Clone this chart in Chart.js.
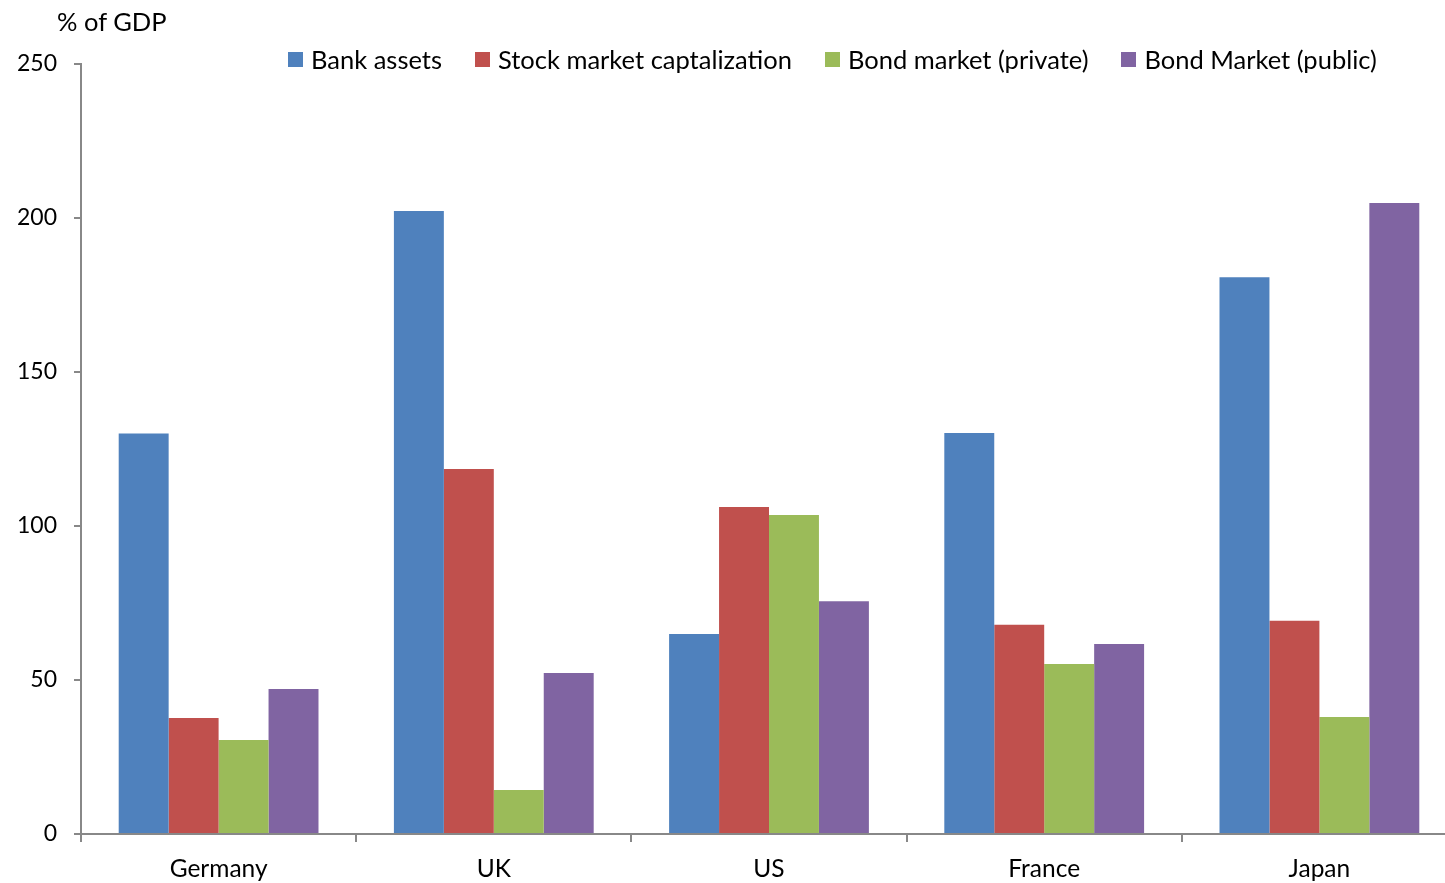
<!DOCTYPE html>
<html>
<head>
<meta charset="utf-8">
<script src="https://cdn.jsdelivr.net/npm/chart.js@4"></script>
<style>
html,body{margin:0;padding:0;background:#fff;width:1445px;height:883px;overflow:hidden;}
#wrap{position:absolute;left:0;top:0;width:1457px;height:883px;}
#title{position:absolute;left:57px;top:6px;font:25.5px Lato, "Open Sans", sans-serif;color:#000;}
#legend{position:absolute;left:288px;top:44px;font:25.5px Lato, "Open Sans", sans-serif;color:#000;display:flex;white-space:nowrap;}
#legend span.item{display:flex;align-items:center;margin-right:33px;}
#legend span.sw{display:inline-block;width:15px;height:15px;margin-right:8px;}
</style>
</head>
<body>
<div id="wrap"><canvas id="c" width="1457" height="883"></canvas></div>
<div id="title">% of GDP</div>
<div id="legend"></div>
<script>
const categories = ["Germany", "UK", "US", "France", "Japan"];
const seriesNames = ["Bank assets", "Stock market captalization", "Bond market (private)", "Bond Market (public)"];
const bankAssets = [130, 202.3, 64.9, 130.2, 180.8];
const stockMarket = [37.7, 118.5, 106.2, 67.9, 69.2];
const bondPrivate = [30.5, 14.3, 103.6, 55.2, 38];
const bondPublic = [47.1, 52.3, 75.6, 61.7, 204.9];
const yTicks = [0, 50, 100, 150, 200, 250];
const colors = ["#4F81BD", "#C0504D", "#9BBB59", "#8064A2"];

const seriesValues = [bankAssets, stockMarket, bondPrivate, bondPublic];
const lg = document.getElementById('legend');
seriesNames.forEach((n, i) => {
  const it = document.createElement('span'); it.className = 'item';
  const sw = document.createElement('span'); sw.className = 'sw'; sw.style.background = colors[i];
  it.appendChild(sw); it.appendChild(document.createTextNode(n)); lg.appendChild(it);
});

const xFont = {family: 'Lato, "Open Sans", sans-serif', size: 24.5};
const yFont = {family: 'Lato, "Open Sans", sans-serif', size: 23};
new Chart(document.getElementById('c'), {
  type: 'bar',
  data: {
    labels: categories,
    datasets: seriesNames.map((n, i) => ({
      label: n, data: seriesValues[i], backgroundColor: colors[i],
      borderWidth: 0, categoryPercentage: 0.726, barPercentage: 1.0
    }))
  },
  options: {
    responsive: false, animation: false,
    layout: {padding: {top: 64, right: 0, left: 0, bottom: 0}},
    plugins: {legend: {display: false}, tooltip: {enabled: false}},
    scales: {
      x: {
        offset: true,
        grid: {offset: true, drawOnChartArea: false, drawTicks: true, tickLength: 8, color: '#888', lineWidth: 2},
        border: {color: '#888', width: 2},
        ticks: {color: '#000', font: xFont, padding: 12},
        afterFit: s => { s.height = 49; }
      },
      y: {
        min: 0, max: 250,
        afterBuildTicks: s => { s.ticks = yTicks.map(v => ({value: v})); },
        grid: {drawOnChartArea: false, drawTicks: true, tickLength: 7, color: '#888', lineWidth: 2},
        border: {color: '#888', width: 2},
        ticks: {color: '#000', font: yFont, padding: 17},
        afterFit: s => { s.width = 81; }
      }
    }
  }
});
</script>
</body>
</html>
